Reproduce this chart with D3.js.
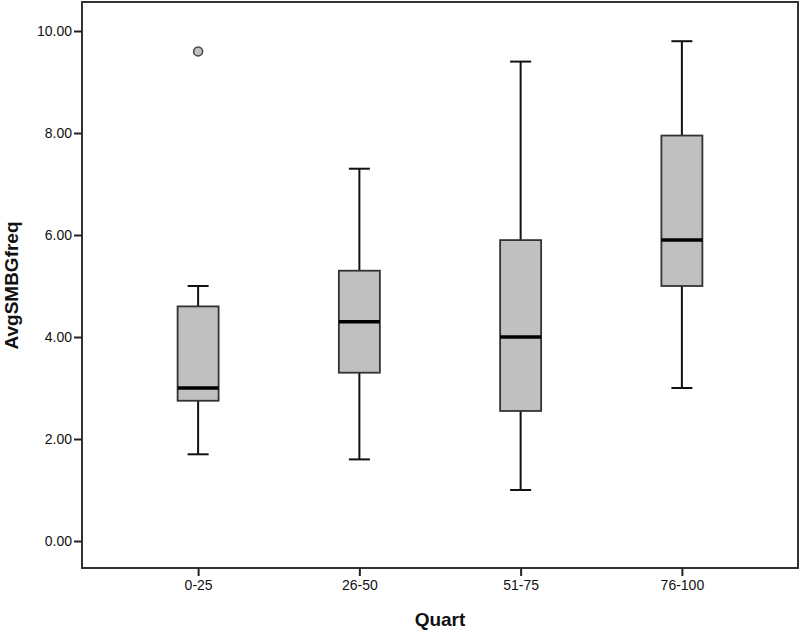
<!DOCTYPE html>
<html>
<head>
<meta charset="utf-8">
<script src="https://cdn.jsdelivr.net/npm/d3@7"></script>
<style>
  body { margin: 0; background: #fff; }
  svg text { font-family: "Liberation Sans", Arial, sans-serif; fill: #111; }
</style>
</head>
<body>
<div id="chart"></div>
<script>
var categories = ["0-25", "26-50", "51-75", "76-100"]
var lowWhisker = [1.7, 1.6, 1.0, 3.0]
var q1 = [2.75, 3.3, 2.55, 5.0]
var median = [3.0, 4.3, 4.0, 5.9]
var q3 = [4.6, 5.3, 5.9, 7.95]
var highWhisker = [5.0, 7.3, 9.4, 9.8]
var outliers = [{cat: "0-25", value: 9.6}]
var yTicks = [0, 2, 4, 6, 8, 10]

var width = 800, height = 633
var margin = {top: 2, left: 82, bottom: 64, right: 2}
var chartWidth = width - margin.left - margin.right
var chartHeight = height - margin.top - margin.bottom

var svg = d3.select("#chart").append("svg")
    .attr("width", width)
    .attr("height", height)

var x = d3.scalePoint()
    .domain(categories)
    .range([margin.left, margin.left + chartWidth])
    .padding(0.72)

var y = d3.scaleLinear()
    .domain([0, 10])
    .range([541, 31])

var boxes = categories.map(function(c, i) {
    return {cat: c, lo: lowWhisker[i], q1: q1[i], med: median[i], q3: q3[i], hi: highWhisker[i]}
})

var boxW = 41, capW = 21

// frame
svg.append("rect")
    .attr("x", margin.left)
    .attr("y", margin.top)
    .attr("width", chartWidth)
    .attr("height", chartHeight - 1)
    .attr("fill", "none")
    .attr("stroke", "#333")
    .attr("stroke-width", 2)

// y axis
var yAxis = d3.axisLeft(y)
    .tickValues(yTicks)
    .tickSize(8)
    .tickPadding(2)
    .tickFormat(d3.format(".2f"))

var gy = svg.append("g")
    .attr("transform", "translate(" + margin.left + ",0)")
    .call(yAxis)
gy.select(".domain").remove()
gy.selectAll("line").attr("stroke", "#222").attr("stroke-width", 2)
gy.selectAll("text").attr("font-size", "14px").attr("fill", "#111")

// x axis
var xAxis = d3.axisBottom(x)
    .tickSize(8)
    .tickPadding(4)

var gx = svg.append("g")
    .attr("transform", "translate(0," + (margin.top + chartHeight - 1) + ")")
    .call(xAxis)
gx.select(".domain").remove()
gx.selectAll("line").attr("stroke", "#222").attr("stroke-width", 2)
gx.selectAll("text").attr("font-size", "14px").attr("fill", "#111")

// boxes
var g = svg.append("g").selectAll("g")
    .data(boxes)
    .enter().append("g")

g.append("line")
    .attr("x1", function(d) { return x(d.cat) })
    .attr("x2", function(d) { return x(d.cat) })
    .attr("y1", function(d) { return y(d.hi) })
    .attr("y2", function(d) { return y(d.lo) })
    .attr("stroke", "#111")
    .attr("stroke-width", 2)

g.selectAll(".cap")
    .data(function(d) { return [{cat: d.cat, v: d.hi}, {cat: d.cat, v: d.lo}] })
    .enter().append("line")
    .attr("class", "cap")
    .attr("x1", function(d) { return x(d.cat) - capW / 2 })
    .attr("x2", function(d) { return x(d.cat) + capW / 2 })
    .attr("y1", function(d) { return y(d.v) })
    .attr("y2", function(d) { return y(d.v) })
    .attr("stroke", "#111")
    .attr("stroke-width", 2)

g.append("rect")
    .attr("x", function(d) { return x(d.cat) - boxW / 2 })
    .attr("y", function(d) { return y(d.q3) })
    .attr("width", boxW)
    .attr("height", function(d) { return y(d.q1) - y(d.q3) })
    .attr("fill", "#c0c0c0")
    .attr("stroke", "#333")
    .attr("stroke-width", 1.8)

g.append("line")
    .attr("x1", function(d) { return x(d.cat) - boxW / 2 })
    .attr("x2", function(d) { return x(d.cat) + boxW / 2 })
    .attr("y1", function(d) { return y(d.med) })
    .attr("y2", function(d) { return y(d.med) })
    .attr("stroke", "#000")
    .attr("stroke-width", 3.5)

// outliers
svg.append("g").selectAll("circle")
    .data(outliers)
    .enter().append("circle")
    .attr("cx", function(d) { return x(d.cat) })
    .attr("cy", function(d) { return y(d.value) })
    .attr("r", 4.5)
    .attr("fill", "#c0c0c0")
    .attr("stroke", "#444")
    .attr("stroke-width", 1.5)

// axis titles
svg.append("text")
    .attr("x", margin.left + chartWidth / 2)
    .attr("y", 626)
    .attr("text-anchor", "middle")
    .attr("font-size", "19px")
    .attr("font-weight", "bold")
    .text("Quart")

svg.append("text")
    .attr("transform", "translate(18," + (margin.top + chartHeight / 2) + ") rotate(-90)")
    .attr("text-anchor", "middle")
    .attr("font-size", "19px")
    .attr("font-weight", "bold")
    .text("AvgSMBGfreq")
</script>
</body>
</html>
